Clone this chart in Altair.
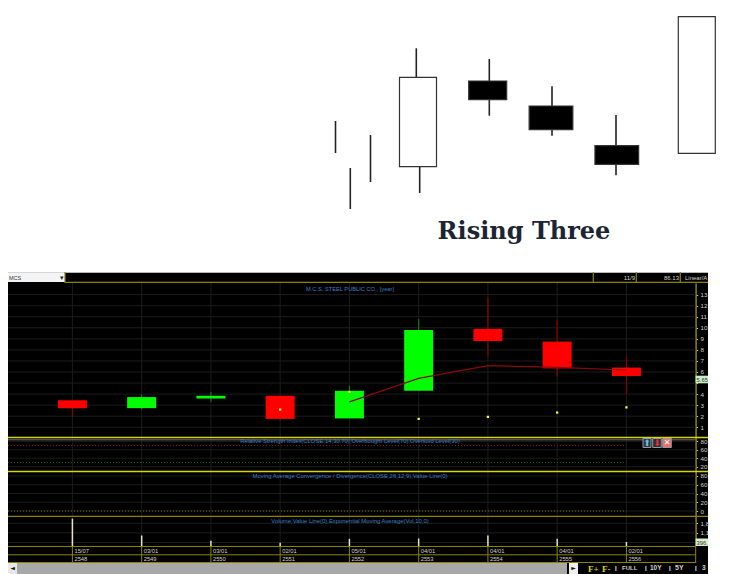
import altair as alt
import pandas as pd

W = 700
FONT = "Liberation Sans"
OLIVE = "#8c8400"
YELLOW = "#d8d800"
BLUE = "#3f7fc4"
GRID = "#1c1c1c"
LIGHT = "#d0d0d0"

# ---- diagram: Rising Three (px-like units)
bar_x = [327.5, 342.3, 362.5]
bar_lo = [119, 63, 90]
bar_hi = [151, 104, 137]
c_x = [410, 479.7, 543, 608.8, 688.8]
c_w = [37, 38, 43.7, 43.7, 37]
c_bot = [105.3, 172.3, 142.3, 107.7, 118.7]
c_top = [194.7, 191, 166, 126.3, 255.3]
c_fill = ["white", "black", "black", "black", "white"]
wick_x = [408.3, 411.7, 481.3, 544, 608]
wick_lo = [194.7, 79, 156.3, 136.3, 96.7]
wick_hi = [223.7, 105.3, 213, 185.7, 157]

# ---- price panel
years = [2548, 2549, 2550, 2551, 2552, 2553, 2554, 2555, 2556]
opens = [3.45, 2.73, 3.6, 3.85, 1.8, 4.3, 9.9, 8.75, 6.4]
closes = [2.73, 3.73, 3.85, 1.76, 4.3, 9.8, 8.8, 6.33, 5.64]
highs = [3.45, 4.0, 4.2, 3.85, 4.76, 10.8, 12.75, 10.67, 7.4]
lows = [1.97, 2.6, 3.3, 1.6, 1.8, 4.3, 7.4, 5.6, 4.0]
dot_years = [2551, 2552, 2553, 2554, 2555, 2556]
dots = [2.6, 4.2, 1.76, 1.94, 2.33, 2.8]
ma_years = [2552, 2553, 2554, 2555, 2556]
ma = [3.3, 5.42, 6.58, 6.42, 6.18]
price_ticks = list(range(1, 14))

rsi_ticks = [20, 40, 60, 80]
macd_ticks = [0, 20, 40, 60, 80]
vols = [2138, 904, 519, 374, 664, 686, 904, 664, 425]
vol_ticks = [1800, 1100, 396]
dates = ["15/07", "03/01", "03/01", "02/01", "05/01", "04/01", "04/01", "04/01", "02/01"]

xs = alt.Scale(domain=[2547.07, 2557.178], nice=False, zero=False, padding=0)
X = alt.X("year:Q", scale=xs, axis=None)


def label(text, x, y, color=LIGHT, size=6, align="left", font=FONT, weight="normal"):
    return alt.Chart(pd.DataFrame({"t": [text]})).mark_text(
        color=color, fontSize=size, align=align, baseline="middle", font=font, fontWeight=weight
    ).encode(text="t:N", x=alt.value(x), y=alt.value(y))


def box(x, x2, y, y2, fill, stroke=None):
    kw = {"stroke": stroke, "strokeWidth": 1} if stroke else {}
    return alt.Chart(pd.DataFrame({"a": [0]})).mark_rect(fill=fill, **kw).encode(
        x=alt.value(x), x2=alt.value(x2), y=alt.value(y), y2=alt.value(y2))


def hline(y, color, width=1, x=0, x2=W, dash=None):
    kw = {"strokeDash": dash} if dash else {}
    return alt.Chart(pd.DataFrame({"a": [0]})).mark_rule(color=color, strokeWidth=width, **kw).encode(
        x=alt.value(x), x2=alt.value(x2), y=alt.value(y))


def vgrid(color=GRID):
    return alt.Chart(pd.DataFrame({"year": years})).mark_rule(color=color, strokeWidth=1).encode(x=X)


def yaxis(values, expr=None):
    kw = {"labelExpr": expr} if expr else {}
    return alt.Axis(orient="right", offset=-12.4, values=values, title=None, grid=False,
                    domainColor=OLIVE, domainWidth=1.5, tickColor=YELLOW, tickSize=2,
                    labelColor=LIGHT, labelFontSize=6.2, labelFont=FONT, labelPadding=2.5,
                    labelOverlap=False, labelBound=False, labelFlush=False, format="d", **kw)


def ychan(field, scale, ax):
    return alt.Y(field, scale=scale, axis=ax, title=None)


def hgrid(ticks, scale, ax, color=GRID):
    return alt.Chart(pd.DataFrame({"v": ticks})).mark_rule(color=color, strokeWidth=1).encode(
        y=ychan("v:Q", scale, ax), x=alt.value(0), x2=alt.value(687.6))


def panel(h, *layers, fill="black"):
    return alt.layer(*layers).properties(width=W, height=h, view=alt.ViewConfig(fill=fill, stroke=None))


# ---- top diagram
pxs = alt.Scale(domain=[0, W], nice=False, zero=False, padding=0)
pys = alt.Scale(domain=[0, 264], nice=False, zero=False)
PX = alt.X("x:Q", scale=pxs, axis=None)
PY = alt.Y("lo:Q", scale=pys, axis=None)
bars_df = pd.DataFrame({"x": bar_x, "lo": bar_lo, "hi": bar_hi})
wick_df = pd.DataFrame({"x": wick_x, "lo": wick_lo, "hi": wick_hi})
cand_df = pd.DataFrame({"x": c_x, "lo": c_bot, "hi": c_top, "w": c_w, "fill": c_fill})
top = panel(
    264,
    alt.Chart(bars_df).mark_rule(color="#222222", strokeWidth=1.6).encode(x=PX, y=PY, y2="hi:Q"),
    alt.Chart(wick_df).mark_rule(color="#222222", strokeWidth=1.6).encode(x=PX, y=PY, y2="hi:Q"),
    *[
        alt.Chart(cand_df.iloc[[i]]).mark_bar(size=c_w[i], stroke="#333333", strokeWidth=1.2).encode(
            x=PX, y=PY, y2="hi:Q", fill=alt.Color("fill:N", scale=None))
        for i in range(len(c_x))
    ],
    label("Rising Three", 516, 224, color="#1d2433", size=24, align="center",
          font="DejaVu Serif", weight="bold"),
    fill="white",
)

# ---- header strip
header = panel(
    11,
    hline(0.5, "#b8b8b8"),
    hline(10.5, OLIVE, 1.5, x=57),
    box(0, 57, 0.5, 10, "#f4f4f4"),
    label("MCS", 1, 5.5, color="#333333", size=5.5),
    label("▾", 52, 5.5, color="#222222", size=7),
    alt.Chart(pd.DataFrame({"x": [57, 585.3, 628.3, 672.3]})).mark_rule(color=OLIVE, strokeWidth=1.2).encode(
        x=alt.X("x:Q", scale=pxs, axis=None)),
    label("11/9", 627, 5.5, align="right"),
    label("86.13", 671, 5.5, align="right"),
    label("Linear/A", 677, 5.5),
)

# ---- price panel
price_s = alt.Scale(domain=[0.12, 14.05], nice=False, zero=False)
price_ax = yaxis(price_ticks, "datum.value == 5 ? '' : datum.label")
cdf = pd.DataFrame({"year": years, "o": opens, "c": closes, "h": highs, "l": lows})
cdf["body"] = ["#00ff00" if c > o else "#ff0000" for o, c in zip(opens, closes)]
cdf["wick"] = ["#0a7a0a" if c > o else "#8a0000" for o, c in zip(opens, closes)]
price = panel(
    154,
    hgrid(price_ticks, price_s, price_ax),
    vgrid(),
    alt.Chart(cdf).mark_rule(strokeWidth=1.2).encode(
        x=X, y=ychan("l:Q", price_s, price_ax), y2="h:Q", color=alt.Color("wick:N", scale=None)),
    alt.Chart(cdf).mark_bar(size=29).encode(
        x=X, y=ychan("o:Q", price_s, price_ax), y2="c:Q", color=alt.Color("body:N", scale=None)),
    alt.Chart(pd.DataFrame({"year": ma_years, "v": ma})).mark_line(color="#8a0a0a", strokeWidth=1.2).encode(
        x=X, y=ychan("v:Q", price_s, price_ax)),
    alt.Chart(pd.DataFrame({"year": dot_years, "v": dots})).mark_square(size=5, color="#ffff20", opacity=1).encode(
        x=X, y=ychan("v:Q", price_s, price_ax)),
    label("M.C.S. STEEL PUBLIC CO., [year]", 342, 5.5, color=BLUE, size=5.7, align="center"),
    box(687.6, 700, 92.7, 100.3, "#c8f0c8"),
    label("5.65", 688.6, 96.5, color="#333333", size=5.8),
)

# ---- RSI panel
rsi_s = alt.Scale(domain=[9.8, 90.2], nice=False, zero=False)
rsi_ax = yaxis(rsi_ticks)
rsi = panel(
    34,
    hgrid(rsi_ticks, rsi_s, rsi_ax),
    vgrid(),
    hline(0.6, YELLOW, 1.5),
    hline(2.8, "#777777", 1, x2=687.6),
    alt.Chart(pd.DataFrame({"year": [2547.07, 2556], "v": [70, 70]})).mark_line(
        color="#7a1030", strokeDash=[1, 2], strokeWidth=1).encode(x=X, y=ychan("v:Q", rsi_s, rsi_ax)),
    alt.Chart(pd.DataFrame({"year": [2547.07, 2556], "v": [30, 30]})).mark_line(
        color="#0a6a0a", strokeDash=[1, 2], strokeWidth=1).encode(x=X, y=ychan("v:Q", rsi_s, rsi_ax)),
    label("Relative Strength Index(CLOSE,14,30,70),Overbought Level(70),Oversold Level(30)",
          342, 4, color=BLUE, size=5.9, align="center"),
    box(635, 643, 1.5, 10.5, "#303840", "#999999"),
    box(644.7, 653.3, 1.5, 10.5, "#303030", "#999999"),
    box(654.7, 663.3, 1.5, 10.5, "#e87070", "#999999"),
    label("⬆", 639, 6, color="#5cc0f0", size=9, align="center", font="DejaVu Sans"),
    label("⬇", 649, 6, color="#e03040", size=9, align="center", font="DejaVu Sans"),
    label("✕", 659, 6, color="#ffffff", size=8, align="center", font="DejaVu Sans"),
)

# ---- MACD panel
macd_s = alt.Scale(domain=[-11.4, 91.4], nice=False, zero=False)
macd_ax = yaxis(macd_ticks)
macd = panel(
    45,
    hgrid(macd_ticks, macd_s, macd_ax),
    vgrid(),
    hline(0.6, YELLOW, 1.5),
    alt.Chart(pd.DataFrame({"year": [2547.07, 2556], "v": [0, 0]})).mark_line(
        color="#7a6a20", strokeDash=[1, 2], strokeWidth=1.2).encode(x=X, y=ychan("v:Q", macd_s, macd_ax)),
    label("Moving Average Convergence / Divergence(CLOSE,26,12,9),Value Line(0)",
          342, 4.5, color=BLUE, size=5.9, align="center"),
)

# ---- volume panel
vol_s = alt.Scale(domain=[135, 2333], nice=False, zero=False)
vol_ax = yaxis(vol_ticks, "datum.value == 1800 ? '1,8' : datum.value == 1100 ? '1,1' : ''")
vol = panel(
    30,
    hgrid(vol_ticks, vol_s, vol_ax),
    vgrid(),
    hline(0.4, OLIVE, 1.2),
    alt.Chart(pd.DataFrame({"year": years, "v": vols})).mark_rule(color="#e8e4c4", strokeWidth=1.5).encode(
        x=X, y=ychan("v:Q", vol_s, vol_ax), y2=alt.value(30)),
    label("Volume,Value Line(0),Exponential Moving Average(Vol,10,0)",
          342, 4.5, color=BLUE, size=5.9, align="center"),
    box(687.6, 700, 22.5, 30, "#d8f0c8"),
    label("396,", 688.6, 26.5, color="#333333", size=5.8),
)

# ---- date rows
ddf = pd.DataFrame({"year": years, "d": dates, "y": [str(y) for y in years]})
date_rows = panel(
    17,
    alt.Chart(pd.DataFrame({"year": years + [2557]})).mark_rule(color=OLIVE, strokeWidth=1).encode(x=X),
    hline(0.5, OLIVE, 1, x2=687.6),
    hline(8.8, OLIVE, 1, x2=687.6),
    hline(16.5, OLIVE, 1, x2=687.6),
    alt.Chart(ddf).mark_text(color=LIGHT, fontSize=5.8, font=FONT, align="left", dx=2, baseline="middle").encode(
        x=X, text="d:N", y=alt.value(4.8)),
    alt.Chart(ddf).mark_text(color=LIGHT, fontSize=5.8, font=FONT, align="left", dx=2, baseline="middle").encode(
        x=X, text="y:N", y=alt.value(13)),
)

# ---- scrollbar and zoom buttons
bottom = panel(
    11,
    box(0, 9, 0, 11, "#e8e8e8"),
    box(9, 559, 0, 11, "#a8a8a8"),
    box(561, 570, 0, 11, "#f0f0f0"),
    label("◄", 4.5, 5, color="#111111", size=6, align="center", font="DejaVu Sans"),
    label("►", 565.5, 5, color="#111111", size=6, align="center", font="DejaVu Sans"),
    label("F+", 580, 5.5, color=YELLOW, size=9, font="Liberation Serif", weight="bold"),
    label("F-", 594, 5.5, color=YELLOW, size=9, font="Liberation Serif", weight="bold"),
    label("|", 607, 5, color="white", size=6, weight="bold"),
    label("FULL", 614, 5, color=LIGHT, size=6, weight="bold"),
    label("|", 637, 5, color="white", size=6, weight="bold"),
    label("10Y", 642, 5, color=LIGHT, size=6.5, weight="bold"),
    label("|", 661, 5, color="white", size=6, weight="bold"),
    label("5Y", 667, 5, color=LIGHT, size=7, weight="bold"),
    label("|", 687, 5, color="white", size=6, weight="bold"),
    label("3", 694, 5, color=LIGHT, size=6.5, weight="bold"),
)

chart = alt.vconcat(top, header, price, rsi, macd, vol, date_rows, bottom, spacing=0, bounds="flush").properties(
    padding={"left": -3, "top": 0, "right": 0, "bottom": 0}, background="white"
).configure_view(stroke=None)

chart.save("out.html", embed_options={"renderer": "svg", "actions": False})
